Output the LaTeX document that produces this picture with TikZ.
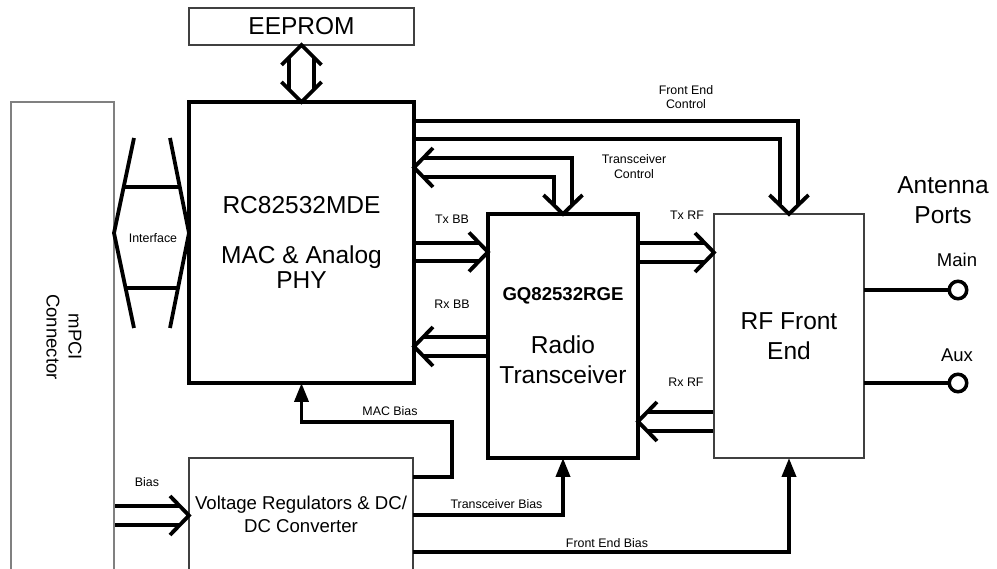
\documentclass[tikz,border=0pt]{standalone}
\usepackage{fontspec}
\setmainfont{Liberation Sans}
\usepackage{tikz}
\usetikzlibrary{arrows.meta}
\usetikzlibrary{backgrounds}
\usetikzlibrary{calc}

\begin{document}
\begin{tikzpicture}[x=1pt, y=-1pt,
	bigtxt/.style={font=\fontsize{24.5}{25}\selectfont},
	midtxt/.style={font=\fontsize{18.5}{22}\selectfont},
	smalltxt/.style={font=\fontsize{12.4}{14.5}\selectfont},
	thickbox/.style={draw, line width=3.8pt, outer sep=0pt, inner sep=0pt},
	thinbox/.style={draw=black!75, line width=1.2pt, outer sep=0pt, inner sep=0pt},
	bus/.style={line width=3.8pt, double=white, double distance=14.7pt},
	bushead/.style={line width=3.8pt},
	feed/.style={line width=3.8pt, -{Triangle[length=19pt, width=14pt]}},
	port/.style={circle, draw, line width=3.5pt, minimum size=17.5pt, inner sep=0pt}]

	\useasboundingbox (0,0) rectangle (997,569);
	\clip (0,0) rectangle (997,569);

	\node[thinbox, bigtxt, minimum width=225pt, minimum height=37pt] (eeprom) at (301.5,26.5) {EEPROM};
	\node[thickbox, bigtxt, align=center, minimum width=225pt, minimum height=281pt] (mac) at (301.5,242.5) {RC82532MDE\\[25pt]MAC \& Analog\\PHY};
	\node[thickbox, align=center, font=\fontsize{24.5}{30}\selectfont, minimum width=150pt, minimum height=244pt] (txc) at (563,336) {{\bfseries\fontsize{18.6}{30}\selectfont GQ82532RGE}\\[23pt]Radio\\Transceiver};
	\node[thinbox, align=center, font=\fontsize{24.5}{30}\selectfont, minimum width=150pt, minimum height=244pt] (rf) at (789,336) {RF Front\\End};
	\node[thinbox, align=center, font=\fontsize{18.6}{23}\selectfont, minimum width=224pt, minimum height=112pt] (vr) at (301,514) {Voltage Regulators \& DC/\\DC Converter};
	\node[thinbox, draw=black!50, minimum width=103pt, minimum height=470pt] (pci) at (62.5,337) {};
	\node[midtxt, rotate=-90, align=center] (pcitxt) at (64,337) {mPCI\\Connector};

	\node[font=\fontsize{24.5}{30}\selectfont, align=center] (antenna) at (943,200) {Antenna\\Ports};
	\node[port] (main) at (958,290) {};
	\node[port] (aux) at (958,383) {};
	\node[midtxt] (mainlbl) at (957,260) {Main};
	\node[midtxt] (auxlbl) at (957,355) {Aux};

	\begin{scope}[every node/.style={smalltxt, align=center}]
		\node (fecl) at (686,97.3) {Front End\\Control};
		\node (txcl) at (634,166.5) {Transceiver\\Control};
		\node (txbb) at (452,219) {Tx BB};
		\node (rxbb) at (452,304) {Rx BB};
		\node (txrf) at (687,215) {Tx RF};
		\node (rxrf) at (686,382) {Rx RF};
		\node (ifc) at (153,238) {Interface};
		\node (macb) at (390,411) {MAC Bias};
		\node (txcb) at (496.5,504) {Transceiver Bias};
		\node (feb) at (607,543) {Front End Bias};
		\node (bias) at (147,482) {Bias};
	\end{scope}

	\begin{scope}[on background layer]
		\draw[bus, double distance=21.2pt, shorten <=12.5pt, shorten >=12.5pt] (eeprom.south) -- (mac.north);
		\draw[bus, shorten >=9pt] (mac.east |- 0,130) -| (rf.north);
		\draw[bus, shorten <=9pt, shorten >=9pt] (mac.east |- 0,167.5) -| (txc.north);
		\draw[bus, shorten >=9pt] (mac.east |- 0,252) -- (txc.west |- 0,252);
		\draw[bus, shorten >=9pt] (txc.west |- 0,346.5) -- (mac.east |- 0,346.5);
		\draw[bus, shorten >=9pt] (txc.east |- 0,252.5) -- (rf.west |- 0,252.5);
		\draw[bus, shorten >=9pt] (rf.west |- 0,421.5) -- (txc.east |- 0,421.5);
		\draw[bus, shorten >=9pt] (pci.east |- 0,515.5) -- (vr.west |- 0,515.5);
	\end{scope}

	\draw[bushead] (eeprom.south) ++(-20,20) -- ++(20,-20) -- ++(20,20);
	\draw[bushead] (mac.north) ++(-20,-20) -- ++(20,20) -- ++(20,-20);
	\draw[bushead] (rf.north) ++(-19.5,-19) -- ++(19.5,19) -- ++(19.5,-19);
	\draw[bushead] (txc.north) ++(-19.5,-19) -- ++(19.5,19) -- ++(19.5,-19);
	\draw[bushead] (mac.east |- 0,167.5) ++(19,-19.5) -- ++(-19,19.5) -- ++(19,19.5);
	\draw[bushead] (txc.west |- 0,252) ++(-19,-19.5) -- ++(19,19.5) -- ++(-19,19.5);
	\draw[bushead] (mac.east |- 0,346.5) ++(19,-19.5) -- ++(-19,19.5) -- ++(19,19.5);
	\draw[bushead] (rf.west |- 0,252.5) ++(-19,-19.5) -- ++(19,19.5) -- ++(-19,19.5);
	\draw[bushead] (txc.east |- 0,421.5) ++(19,-19.5) -- ++(-19,19.5) -- ++(19,19.5);
	\draw[bushead] (vr.west |- 0,515.5) ++(-19,-19.5) -- ++(19,19.5) -- ++(-19,19.5);

	\draw[bushead] (pci.east |- 0,233) ++(20,-95) -- ++(-20,95) -- ++(20,95);
	\draw[bushead] (mac.west |- 0,233) ++(-19,-95) -- ++(19,95) -- ++(-19,95);
	\draw[bushead] ($(pci.east |- 0,187)+(9.5,0)$) -- ($(mac.west |- 0,187)+(-9.5,0)$);
	\draw[bushead] ($(pci.east |- 0,288)+(11.5,0)$) -- ($(mac.west |- 0,288)+(-11,0)$);

	\draw[feed] (vr.east |- 0,477) -| ++(39,-55) -| (mac.south);
	\draw[feed] (vr.east |- 0,515) -| (txc.south);
	\draw[feed] (vr.east |- 0,552) -| (rf.south);

	\draw[bushead] (rf.east |- main) -- (main);
	\draw[bushead] (rf.east |- aux) -- (aux);
\end{tikzpicture}
\end{document}
